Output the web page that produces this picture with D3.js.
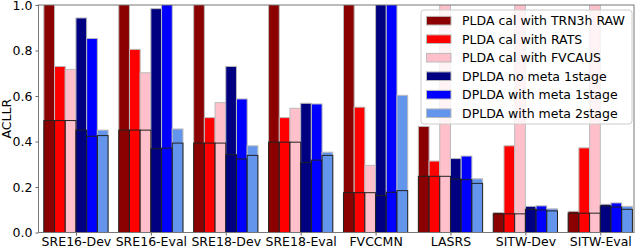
<!DOCTYPE html>
<html>
<head>
<meta charset="utf-8">
<script src="https://cdn.jsdelivr.net/npm/d3@7"></script>
<style>
  body { margin: 0; background: #fff; }
  text { font-family: "DejaVu Sans", sans-serif; }
</style>
</head>
<body>
<div id="chart"></div>
<script>
// datasets on the x axis
var categories = ["SRE16-Dev", "SRE16-Eval", "SRE18-Dev", "SRE18-Eval", "FVCCMN", "LASRS", "SITW-Dev", "SITW-Eval"];
var seriesNames = [
  "PLDA cal with TRN3h RAW",
  "PLDA cal with RATS",
  "PLDA cal with FVCAUS",
  "DPLDA no meta 1stage",
  "DPLDA with meta 1stage",
  "DPLDA with meta 2stage"
];
var yTicks = [0, 0.2, 0.4, 0.6, 0.8, 1.0];

// actual CLLR (full bars), values above 1 run off the top of the plot
var actRaw    = [1.5, 1.6, 1.4, 1.45, 1.8, 0.466, 0.088, 0.093];
var actRats   = [0.730, 0.805, 0.505, 0.505, 0.551, 0.314, 0.381, 0.372];
var actFvcaus = [0.717, 0.702, 0.571, 0.546, 0.295, 1.2, 1.5, 1.5];
var actNoMeta = [0.943, 0.984, 0.730, 0.568, 1.3, 0.325, 0.115, 0.124];
var actMeta1  = [0.853, 1.05, 0.587, 0.565, 1.3, 0.336, 0.117, 0.130];
var actMeta2  = [0.450, 0.455, 0.381, 0.353, 0.603, 0.236, 0.104, 0.115];

// min CLLR (black outlined bars)
var minPlda   = [0.492, 0.450, 0.393, 0.397, 0.175, 0.247, 0.082, 0.085];
var minNoMeta = [0.450, 0.368, 0.342, 0.307, 0.162, 0.235, 0.102, 0.117];
var minMeta1  = [0.423, 0.371, 0.323, 0.318, 0.177, 0.232, 0.099, 0.112];
var minMeta2  = [0.426, 0.393, 0.339, 0.339, 0.184, 0.216, 0.095, 0.102];

var colors = ["#8b0000", "#ff0000", "#ffc0cb", "#000080", "#0000ff", "#6495ed"];

var actAll = [actRaw, actRats, actFvcaus, actNoMeta, actMeta1, actMeta2];
var minAll = [minPlda, minPlda, minPlda, minNoMeta, minMeta1, minMeta2];

var w = 640, h = 248;
var padL = 38.5, padR = 634, padT = 5, padB = 232.5;
var nSeries = seriesNames.length;
var barW = 1 / 7;

var svg = d3.select("#chart").append("svg")
  .attr("width", w)
  .attr("height", h);

var xScale = d3.scaleLinear()
  .domain([-0.5, 7.45])
  .range([padL, padR]);

var yScale = d3.scaleLinear()
  .domain([0, 1])
  .range([padB, padT]);

svg.append("clipPath").attr("id", "plotClip")
  .append("rect")
  .attr("x", padL).attr("y", padT)
  .attr("width", padR - padL).attr("height", padB - padT);

var bars = [];
actAll.forEach(function(vals, j) {
  vals.forEach(function(v, i) {
    bars.push({ s: j, i: i, act: v, min: minAll[j][i] });
  });
});

function barX(d) { return xScale(d.i + (d.s - nSeries / 2) * barW); }
var bw = xScale(barW) - xScale(0);

var plot = svg.append("g").attr("clip-path", "url(#plotClip)");

// actual CLLR bars
plot.selectAll("rect.act")
  .data(bars)
  .enter()
  .append("rect")
  .attr("class", "act")
  .attr("x", barX)
  .attr("y", function(d) { return yScale(d.act); })
  .attr("width", bw)
  .attr("height", function(d) { return padB - yScale(d.act); })
  .attr("fill", function(d) { return colors[d.s]; })
  .attr("stroke", "#bbb")
  .attr("stroke-width", 1);

// min CLLR bars on top
plot.selectAll("rect.min")
  .data(bars)
  .enter()
  .append("rect")
  .attr("class", "min")
  .attr("x", barX)
  .attr("y", function(d) { return yScale(d.min); })
  .attr("width", bw)
  .attr("height", function(d) { return padB - yScale(d.min); })
  .attr("fill", function(d) { return colors[d.s]; })
  .attr("stroke", "#222")
  .attr("stroke-width", 1);

// axes
var xAxis = svg.append("g")
  .attr("transform", "translate(0," + padB + ")")
  .call(d3.axisBottom(xScale)
    .tickValues(d3.range(categories.length))
    .tickFormat(function(i) { return categories[i]; })
    .tickSize(3)
    .tickPadding(2));

var yAxis = svg.append("g")
  .attr("transform", "translate(" + padL + ",0)")
  .call(d3.axisLeft(yScale)
    .tickValues(yTicks)
    .tickFormat(d3.format(".1f"))
    .tickSize(3)
    .tickPadding(3));

[xAxis, yAxis].forEach(function(g) {
  g.select(".domain").remove();
  g.selectAll("line").attr("stroke", "#666");
  g.selectAll("text")
    .attr("fill", "#000")
    .style("font-size", "12.5px")
    .style("font-family", "DejaVu Sans, sans-serif");
});

// frame
svg.append("rect")
  .attr("x", padL).attr("y", padT)
  .attr("width", padR - padL).attr("height", padB - padT)
  .attr("fill", "none")
  .attr("stroke", "#777")
  .attr("stroke-width", 1);

// y label
svg.append("text")
  .text("ACLLR")
  .attr("transform", "rotate(-90)")
  .attr("x", -(padT + padB) / 2)
  .attr("y", 11)
  .attr("text-anchor", "middle")
  .style("font-size", "12.5px");

// legend
var legend = svg.append("g").attr("transform", "translate(421,10)");
legend.append("rect")
  .attr("width", 211)
  .attr("height", 114)
  .attr("rx", 3)
  .attr("fill", "#fff")
  .attr("fill-opacity", 0.8)
  .attr("stroke", "#ccc");

var items = legend.selectAll("g.item")
  .data(seriesNames)
  .enter()
  .append("g")
  .attr("transform", function(d, i) { return "translate(0," + (10.7 + i * 18.5) + ")"; });

items.append("rect")
  .attr("x", 5.5)
  .attr("y", -4.3)
  .attr("width", 24.5)
  .attr("height", 8.6)
  .attr("fill", function(d, i) { return colors[i]; })
  .attr("stroke", "#bbb");

items.append("text")
  .text(function(d) { return d; })
  .attr("x", 41)
  .attr("dy", "0.35em")
  .style("font-size", "12.5px");
</script>
</body>
</html>
